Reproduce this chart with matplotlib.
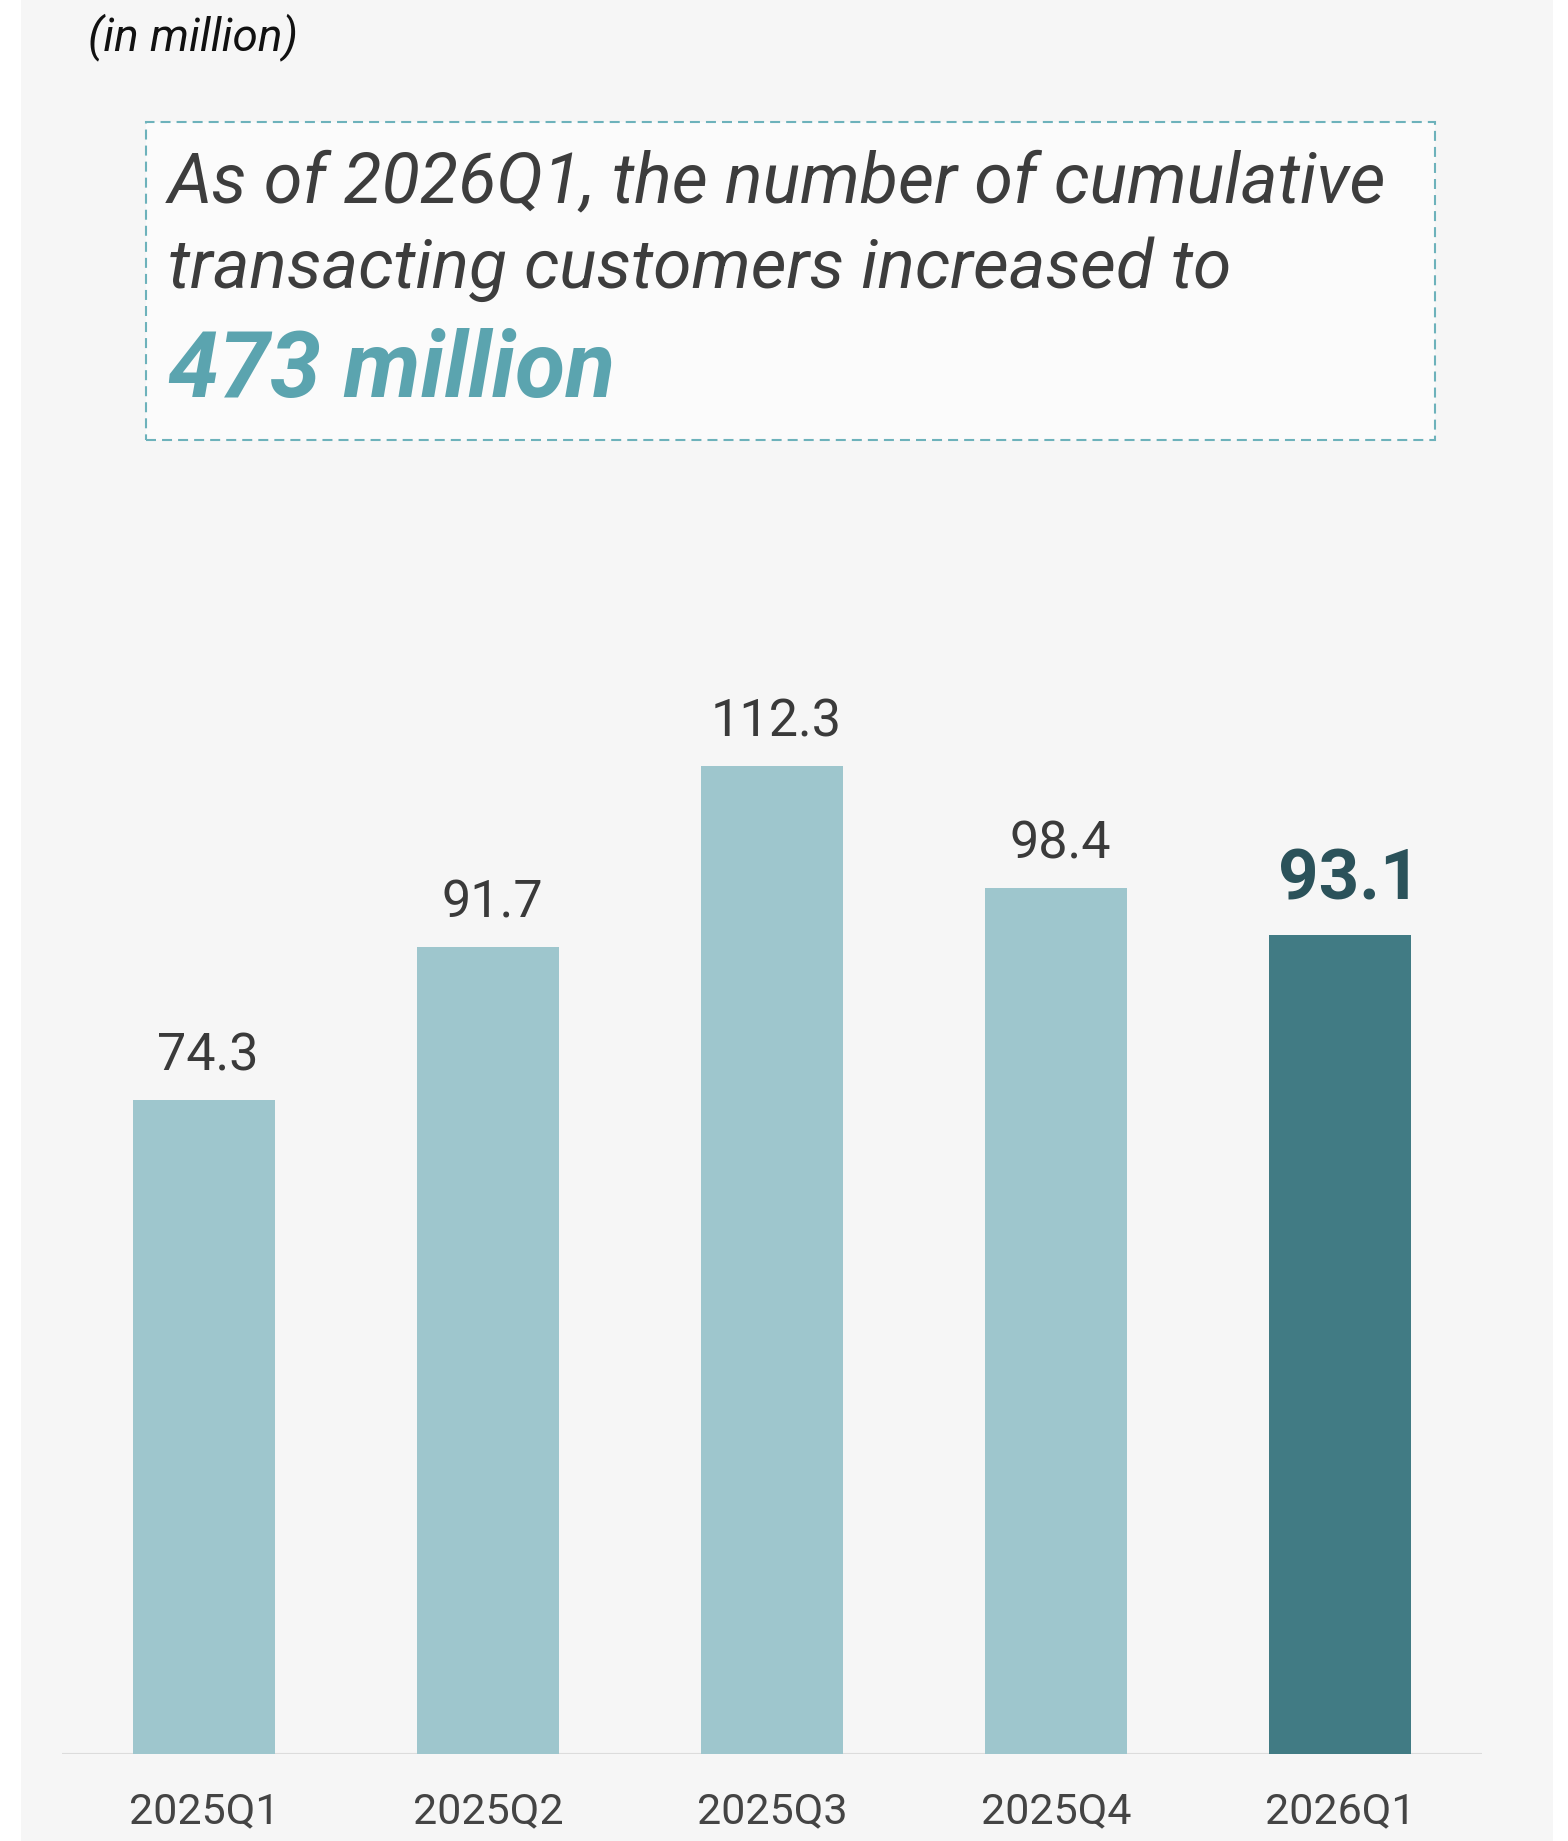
import matplotlib
matplotlib.use('Agg')
import matplotlib.pyplot as plt
from matplotlib.patches import Rectangle

# data
quarters = ['2025Q1', '2025Q2', '2025Q3', '2025Q4', '2026Q1']
customers = [74.3, 91.7, 112.3, 98.4, 93.1]
highlight = '2026Q1'

unit_note = '(in million)'
headline = ['As of 2026Q1, the number of cumulative',
            'transacting customers increased to']
headline_total = '473 million'

plt.rcParams['font.family'] = ['Roboto', 'DejaVu Sans']

W, H = 1568, 1841
fig = plt.figure(figsize=(W / 100, H / 100), dpi=100)
fig.patch.set_facecolor('white')


def fx(px):
    return px / W


def fy(py):
    return 1 - py / H


# grey panel behind everything
fig.add_artist(Rectangle((fx(21), 0), fx(1553 - 21), 1, transform=fig.transFigure,
                         facecolor='#f6f6f6', edgecolor='none', zorder=0))

# dashed call-out box
fig.add_artist(Rectangle((fx(146), fy(440)), fx(1435 - 146), (440 - 122) / H,
                         transform=fig.transFigure, facecolor='#fbfbfb',
                         edgecolor='#6db2bb', linewidth=1.5,
                         linestyle=(0, (4.8, 2.9)), zorder=1))

fig.text(fx(88), fy(50), unit_note, style='italic', fontsize=33,
         color='#111111', va='baseline', ha='left')
fig.text(fx(168), fy(202), headline[0], style='italic', fontsize=50.5,
         color='#3d3d3d', va='baseline', ha='left')
fig.text(fx(168), fy(288), headline[1], style='italic', fontsize=50,
         color='#3d3d3d', va='baseline', ha='left')
fig.text(fx(168), fy(397), headline_total, style='italic', fontweight='bold',
         fontsize=66, color='#5ba4af', va='baseline', ha='left')

# bar chart
px_per_unit = 8.795
ax_top = 480
ax = fig.add_axes([fx(62), fy(1753.5), fx(1420), (1753.5 - ax_top) / H])
ax.set_facecolor('none')
ax.set_xlim(-0.5, len(quarters) - 0.5)
ax.set_ylim(0, (1753.5 - ax_top) / px_per_unit)

colors = ['#417b84' if q == highlight else '#9ec6cd' for q in quarters]
x = list(range(len(quarters)))
ax.bar(x, customers, width=0.5, color=colors, zorder=2)
ax.axhline(0, color='#dcdcdc', linewidth=1.5, zorder=1)

for i, (q, v) in enumerate(zip(quarters, customers)):
    if q == highlight:
        ax.annotate(f'{v}', (i, v), xytext=(7, 25), textcoords='offset points',
                    ha='center', va='baseline', fontsize=51, fontweight='bold',
                    color='#2b525a')
    else:
        ax.annotate(f'{v}', (i, v), xytext=(3, 21), textcoords='offset points',
                    ha='center', va='baseline', fontsize=37.5, color='#3a3a3a')

ax.set_xticks(x, quarters)
ax.set_yticks([])
ax.tick_params(axis='x', length=0, pad=27, labelsize=31, labelcolor='#444444')
for s in ax.spines.values():
    s.set_visible(False)

fig.savefig('out.png', dpi=100, facecolor=fig.get_facecolor())
